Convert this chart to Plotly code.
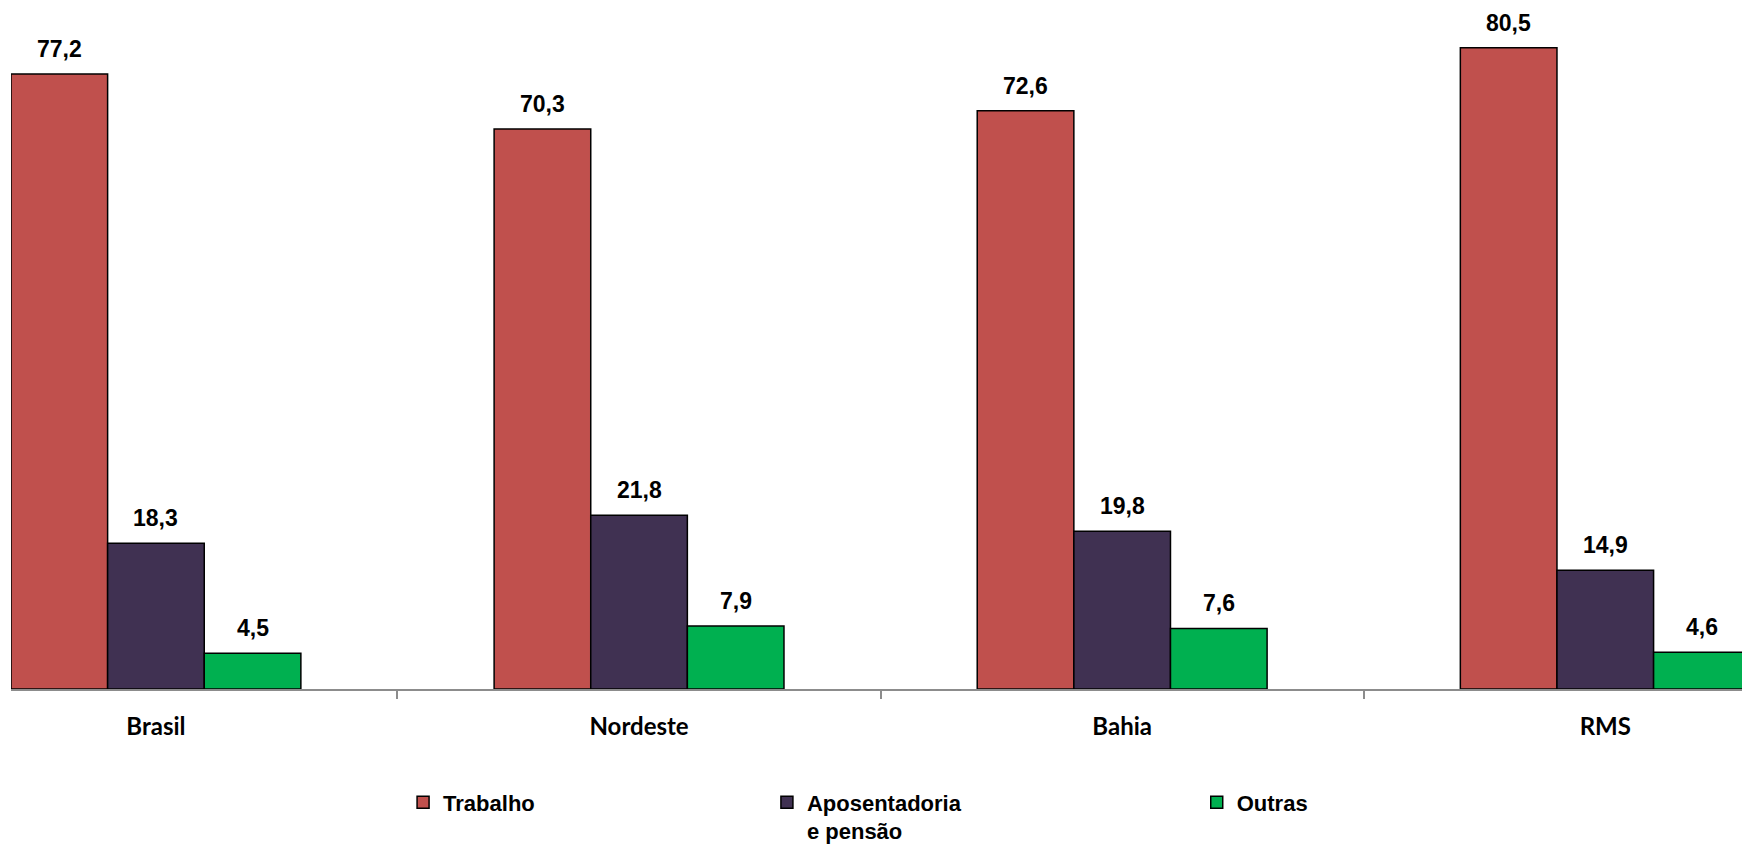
import plotly.graph_objects as go

# Source categories and shares (%)
regioes = ["Brasil", "Nordeste", "Bahia", "RMS"]
trabalho = [77.2, 70.3, 72.6, 80.5]
aposentadoria = [18.3, 21.8, 19.8, 14.9]
outras = [4.5, 7.9, 7.6, 4.6]

series = [
    ("Trabalho", trabalho, "#C0504D", "legend"),
    ("Aposentadoria<br>e pensão", aposentadoria, "#403152", "legend2"),
    ("Outras", outras, "#00B050", "legend3"),
]

W, H = 1742, 845
fig = go.Figure()

for nome, valores, cor, leg in series:
    fig.add_trace(go.Bar(
        x=regioes, y=valores, name=nome, legend=leg,
        marker=dict(color=cor, line=dict(color="#000000", width=1.5)),
        hoverinfo="x+y",
    ))

# value labels above each bar
offsets = [-0.2, 0.0, 0.2]
arial_bold = dict(family="Liberation Sans", size=23, color="#000000", weight="bold")
anots = []
for (nome, valores, cor, leg), off in zip(series, offsets):
    for i, v in enumerate(valores):
        anots.append(dict(
            x=i + off, y=v, xref="x", yref="y",
            text=f"{v:.1f}".replace(".", ","),
            showarrow=False, yanchor="bottom", yshift=10,
            font=arial_bold,
        ))

leg_font = dict(family="Liberation Sans", size=22, color="#000000", weight="bold")
leg_common = dict(orientation="h", xanchor="left", yanchor="top",
                  bgcolor="rgba(0,0,0,0)", font=leg_font, valign="top",
                  itemclick=False, itemdoubleclick=False)

fig.update_layout(
    width=W, height=H,
    margin=dict(l=11, r=0, t=0, b=156, autoexpand=False),
    paper_bgcolor="#FFFFFF", plot_bgcolor="#FFFFFF",
    barmode="group", bargap=0.4, bargroupgap=0,
    annotations=anots,
    xaxis=dict(
        type="category", range=[-0.3, 3.283], automargin=False,
        showline=True, linecolor="#8C8C8C", linewidth=1.5,
        ticks="outside", tickson="boundaries", ticklen=8, tickcolor="#8C8C8C",
        tickwidth=1.5, showgrid=False, zeroline=False,
        tickfont=dict(family="Lato", size=24, color="#000000", weight="bold"),
        ticklabelstandoff=15,
    ),
    yaxis=dict(range=[0, 86.5], visible=False, showgrid=False, zeroline=False),
    legend=dict(x=0.2265, y=-0.134, **leg_common),
    legend2=dict(x=0.4367, y=-0.134, **leg_common),
    legend3=dict(x=0.685, y=-0.134, **leg_common),
    showlegend=True,
)

fig.write_html("out.html")
